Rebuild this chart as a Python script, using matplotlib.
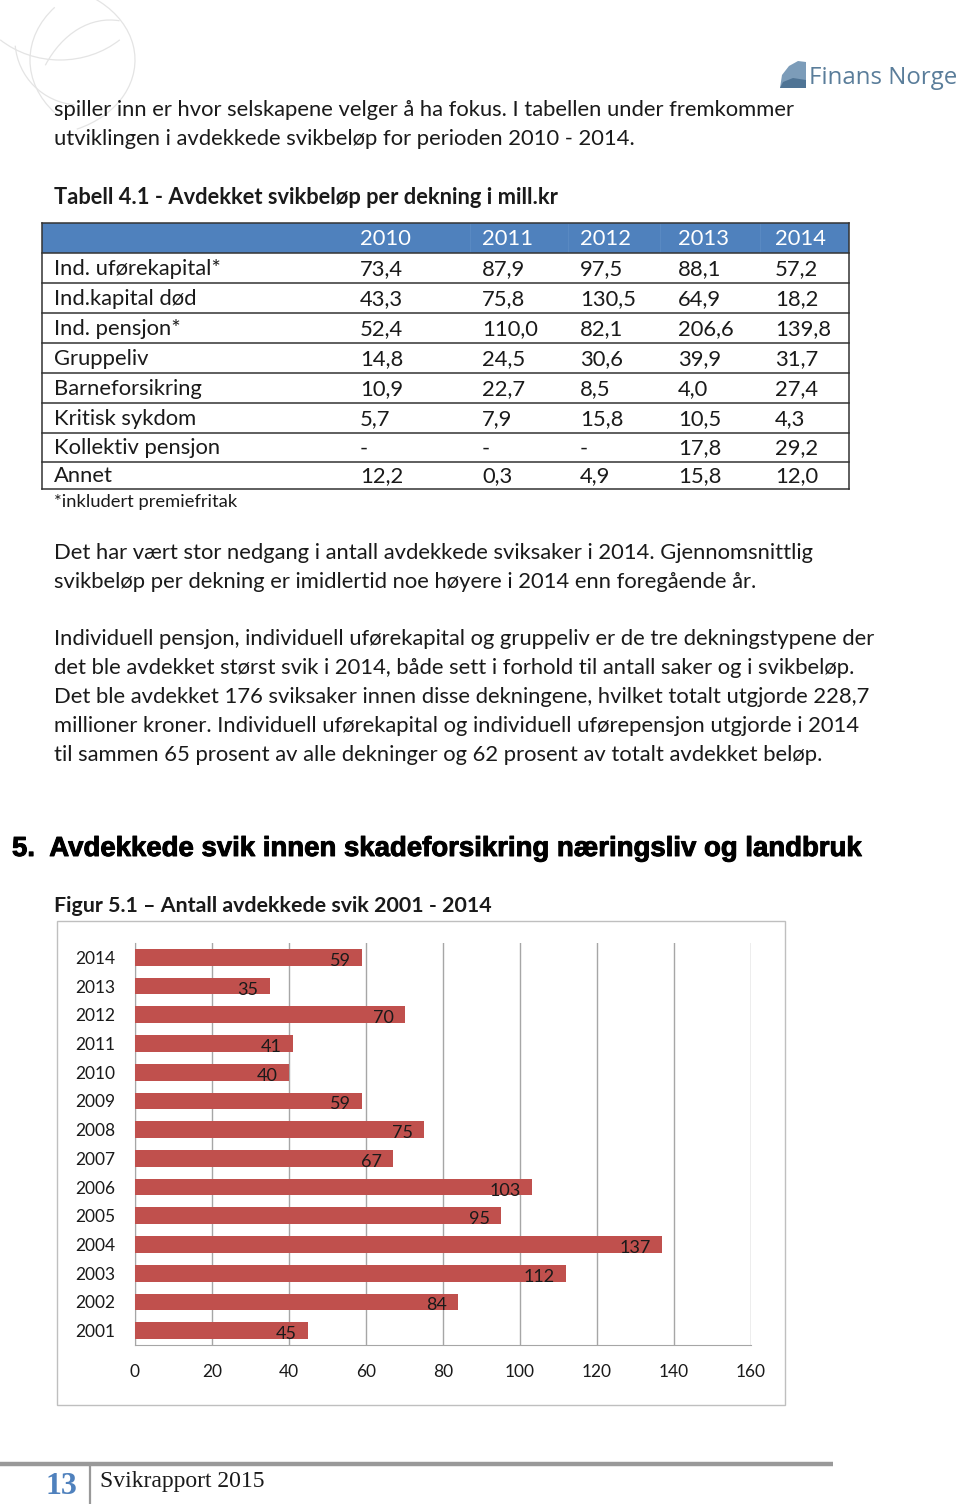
import matplotlib
matplotlib.use("Agg")
import matplotlib.pyplot as plt
import matplotlib.patheffects as pe
from matplotlib.patches import Rectangle, Arc, Polygon

# --- data -------------------------------------------------------------
aar = [2001, 2002, 2003, 2004, 2005, 2006, 2007, 2008, 2009, 2010, 2011, 2012, 2013, 2014]
antall_svik = [45, 84, 112, 137, 95, 103, 67, 75, 59, 40, 41, 70, 35, 59]

tabell_aar = ["2010", "2011", "2012", "2013", "2014"]
dekninger = ["Ind. uførekapital*", "Ind.kapital død", "Ind. pensjon*", "Gruppeliv",
             "Barneforsikring", "Kritisk sykdom", "Kollektiv pensjon", "Annet"]
uforekapital = [73.4, 87.9, 97.5, 88.1, 57.2]
kapital_dod = [43.3, 75.8, 130.5, 64.9, 18.2]
pensjon = [52.4, 110.0, 82.1, 206.6, 139.8]
gruppeliv = [14.8, 24.5, 30.6, 39.9, 31.7]
barneforsikring = [10.9, 22.7, 8.5, 4.0, 27.4]
kritisk_sykdom = [5.7, 7.9, 15.8, 10.5, 4.3]
kollektiv_pensjon = [None, None, None, 17.8, 29.2]
annet = [12.2, 0.3, 4.9, 15.8, 12.0]
belop = [uforekapital, kapital_dod, pensjon, gruppeliv, barneforsikring,
         kritisk_sykdom, kollektiv_pensjon, annet]

avsnitt_1 = ["spiller inn er hvor selskapene velger å ha fokus. I tabellen under fremkommer",
             "utviklingen i avdekkede svikbeløp for perioden 2010 - 2014."]
avsnitt_2 = ["Det har vært stor nedgang i antall avdekkede sviksaker i 2014. Gjennomsnittlig",
             "svikbeløp per dekning er imidlertid noe høyere i 2014 enn foregående år."]
avsnitt_3 = ["Individuell pensjon, individuell uførekapital og gruppeliv er de tre dekningstypene der",
             "det ble avdekket størst svik i 2014, både sett i forhold til antall saker og i svikbeløp.",
             "Det ble avdekket 176 sviksaker innen disse dekningene, hvilket totalt utgjorde 228,7",
             "millioner kroner. Individuell uførekapital og individuell uførepensjon utgjorde i 2014",
             "til sammen 65 prosent av alle dekninger og 62 prosent av totalt avdekket beløp."]

TEKST = "#1a1a1a"
BLA = "#4f81bd"
ROD = "#c0504d"

fig = plt.figure(figsize=(9.6, 15.04), dpi=100)
renderer = fig.canvas.get_renderer()

# side-akse i pikselkoordinater
side = fig.add_axes([0, 0, 1, 1])
side.set_xlim(0, 960)
side.set_ylim(1504, 0)
side.axis("off")


def tilpass(s, bredde, **kw):
    # finn fontstorrelse som gir onsket bredde i piksler
    t = fig.text(0, 0, s, fontsize=10, **kw)
    w = t.get_window_extent(renderer).width
    t.remove()
    return 10 * bredde / w


body = dict(family="Lato", color=TEKST)
bold = dict(family="Lato", color=TEKST, fontweight="bold")
fs = tilpass(avsnitt_1[0], 741, **body)

# svak globus i hjornet
for (cx, cy, bw, bh, t1, t2) in [(40, 60, 190, 150, -90, 62), (130, 60, 200, 160, 145, 215),
                                   (110, 130, 160, 220, 225, 275), (60, -20, 180, 160, 45, 135),
                                   (80, 40, 130, 130, 95, 175)]:
    side.add_patch(Arc((cx, cy), bw, bh, theta1=t1, theta2=t2, color="#e4e4e4", lw=0.9))

# logo
side.add_patch(Polygon([(780, 88), (806, 88), (806, 62), (798, 61), (789, 66), (782, 75)],
                       closed=True, fc="#7c9cb9", ec="none"))
side.add_patch(Polygon([(780, 88), (806, 88), (806, 80), (793, 78), (783, 82)],
                       closed=True, fc="#4f7495", ec="none"))
side.text(809, 78, "Finans Norge", va="center", ha="left", color="#5a7d9a", family="Open Sans",
          fontsize=tilpass("Finans Norge", 148, family="Open Sans"))

for i, linje in enumerate(avsnitt_1):
    side.text(54, 110 + 29 * i, linje, va="center", fontsize=fs, **body)

side.text(54, 197, "Tabell 4.1 - Avdekket svikbeløp per dekning i mill.kr", va="center",
          fontsize=tilpass("Tabell 4.1 - Avdekket svikbeløp per dekning i mill.kr", 506, **bold), **bold)

# tabell
kol_x = [360, 482, 580, 678, 775]
linjer_y = [223, 253, 283, 313, 343, 373, 403, 433, 462, 489]
side.add_patch(Rectangle((42, 223), 807, 30, fc=BLA, ec="none"))
for x in [470, 568, 660, 760]:
    side.plot([x, x], [224, 252], color="#5c8bc4", lw=0.6)
for x, a in zip(kol_x, tabell_aar):
    side.text(x, 239, a, va="center", color="white", family="Lato", fontsize=fs)
for y in linjer_y:
    side.plot([42, 849], [y, y], color="#333333", lw=1.1)
side.plot([42, 42], [223, 489], color="#333333", lw=1.1)
side.plot([849, 849], [223, 489], color="#333333", lw=1.1)
for r, (navn, rad) in enumerate(zip(dekninger, belop)):
    yc = (linjer_y[r + 1] + linjer_y[r + 2]) / 2 + 1
    side.text(54, yc, navn, va="center", fontsize=fs, **body)
    for x, v in zip(kol_x, rad):
        s = "-" if v is None else f"{v:.1f}".replace(".", ",")
        side.text(x, yc, s, va="center", fontsize=fs, **body)
side.text(54, 502, "*inkludert premiefritak", va="center",
          fontsize=tilpass("*inkludert premiefritak", 184, **body), **body)

for i, linje in enumerate(avsnitt_2):
    side.text(54, 553 + 29 * i, linje, va="center", fontsize=fs, **body)
for i, linje in enumerate(avsnitt_3):
    side.text(54, 639 + 29 * i, linje, va="center", fontsize=fs, **body)

overskrift = "5.  Avdekkede svik innen skadeforsikring næringsliv og landbruk"
hf = dict(family="Liberation Sans", fontweight="bold", color="black")
side.text(12, 849, overskrift, va="center", fontsize=tilpass(overskrift, 854, **hf),
          path_effects=[pe.withStroke(linewidth=0.7, foreground="black")], **hf)

figtittel = "Figur 5.1 – Antall avdekkede svik 2001 - 2014"
side.text(54, 906, figtittel, va="center", fontsize=tilpass(figtittel, 438, **bold), **bold)

# ramme rundt diagram
side.add_patch(Rectangle((57, 921), 728, 484, fc="white", ec="#bfbfbf", lw=1))

# bunntekst
side.plot([0, 833], [1464, 1464], color="#999999", lw=3.2, solid_capstyle="butt")
side.plot([90, 90], [1466, 1504], color="#999999", lw=1.6)
serif = dict(family="Liberation Serif")
side.text(46, 1486, "13", va="center", color=BLA, fontsize=23, fontweight="bold", **serif)
side.text(100, 1481, "Svikrapport 2015", va="center", color=TEKST, fontsize=17, **serif)

# --- stolpediagram ------------------------------------------------------
ax = fig.add_axes([135 / 960, 1 - 1345 / 1504, 616 / 960, 402 / 1504])
ax.set_facecolor("none")
pos = list(range(len(aar)))
ax.barh(pos, antall_svik, height=0.58, color=ROD, zorder=3)
ax.set_xlim(0, 160)
ax.set_ylim(-0.5, len(aar) - 0.5)
ax.set_xticks(range(0, 161, 20))
ax.set_yticks(pos)
ax.set_yticklabels([str(a) for a in aar])
ax.xaxis.grid(True, color="#a6a6a6", lw=1, zorder=0)
for s in ["top", "right"]:
    ax.spines[s].set_visible(False)
for s in ["left", "bottom"]:
    ax.spines[s].set_color("#a6a6a6")
ax.tick_params(length=0, labelsize=12.5, labelcolor=TEKST)
ax.tick_params(axis="y", pad=14)
ax.tick_params(axis="x", pad=14)
for lab in ax.get_xticklabels() + ax.get_yticklabels():
    lab.set_family("Lato")
for p, v in zip(pos, antall_svik):
    ax.annotate(str(v), (v, p), xytext=(-8, -2.5), textcoords="offset points",
                ha="right", va="center", fontsize=13, family="Lato", color=TEKST, zorder=4)

fig.savefig("out.png", dpi=100)
